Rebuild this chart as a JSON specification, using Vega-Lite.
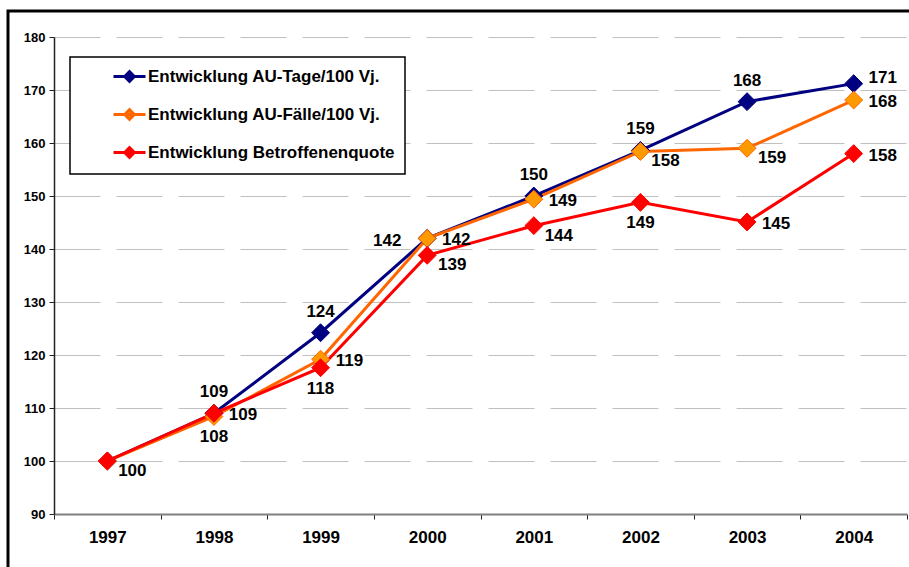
{
  "$schema": "https://vega.github.io/schema/vega-lite/v6.json",
  "width": 905,
  "height": 560,
  "autosize": {"type": "none"},
  "padding": {"left": 8, "top": 11, "right": -4, "bottom": -4},
  "background": "white",
  "config": {
    "view": {"stroke": "black", "strokeWidth": 3},
    "font": "Liberation Sans",
    "legend": {
      "orient": "none",
      "legendX": 62,
      "legendY": 46,
      "strokeColor": "black",
      "strokeWidth": 1.5,
      "fillColor": "white",
      "padding": 10,
      "rowPadding": 15,
      "symbolOffset": 40,
      "labelOffset": 9,
      "labelFont": "Liberation Sans",
      "labelFontSize": 17,
      "labelFontWeight": "bold",
      "labelColor": "black",
      "labelLimit": 400,
      "symbolType": "M-2,0L2,0M-0.6,0L0,-0.6L0.6,0L0,0.6Z",
      "symbolSize": 256,
      "symbolStrokeWidth": 3
    }
  },
  "data": {
    "values": [
      {"year": "1997", "series": "Entwicklung AU-Tage/100 Vj.", "value": 100},
      {"year": "1998", "series": "Entwicklung AU-Tage/100 Vj.", "value": 109},
      {"year": "1999", "series": "Entwicklung AU-Tage/100 Vj.", "value": 124.2},
      {"year": "2000", "series": "Entwicklung AU-Tage/100 Vj.", "value": 142},
      {"year": "2001", "series": "Entwicklung AU-Tage/100 Vj.", "value": 150},
      {"year": "2002", "series": "Entwicklung AU-Tage/100 Vj.", "value": 158.6},
      {"year": "2003", "series": "Entwicklung AU-Tage/100 Vj.", "value": 167.8},
      {"year": "2004", "series": "Entwicklung AU-Tage/100 Vj.", "value": 171.2},
      {"year": "1997", "series": "Entwicklung AU-Fälle/100 Vj.", "value": 100},
      {"year": "1998", "series": "Entwicklung AU-Fälle/100 Vj.", "value": 108.4},
      {"year": "1999", "series": "Entwicklung AU-Fälle/100 Vj.", "value": 119.2},
      {"year": "2000", "series": "Entwicklung AU-Fälle/100 Vj.", "value": 142},
      {"year": "2001", "series": "Entwicklung AU-Fälle/100 Vj.", "value": 149.4},
      {"year": "2002", "series": "Entwicklung AU-Fälle/100 Vj.", "value": 158.4},
      {"year": "2003", "series": "Entwicklung AU-Fälle/100 Vj.", "value": 159},
      {"year": "2004", "series": "Entwicklung AU-Fälle/100 Vj.", "value": 168.1},
      {"year": "1997", "series": "Entwicklung Betroffenenquote", "value": 100},
      {"year": "1998", "series": "Entwicklung Betroffenenquote", "value": 109},
      {"year": "1999", "series": "Entwicklung Betroffenenquote", "value": 117.6},
      {"year": "2000", "series": "Entwicklung Betroffenenquote", "value": 138.8},
      {"year": "2001", "series": "Entwicklung Betroffenenquote", "value": 144.4},
      {"year": "2002", "series": "Entwicklung Betroffenenquote", "value": 148.8},
      {"year": "2003", "series": "Entwicklung Betroffenenquote", "value": 145.1},
      {"year": "2004", "series": "Entwicklung Betroffenenquote", "value": 158}
    ]
  },
  "encoding": {
    "x": {
      "field": "year",
      "type": "ordinal",
      "scale": {"type": "band", "range": [46, 899], "paddingInner": 0, "paddingOuter": 0},
      "axis": {
        "title": null,
        "offset": -57,
        "labelAngle": 0,
        "tickBand": "extent",
        "tickSize": 5,
        "tickColor": "#222222",
        "domainColor": "#808080",
        "domainWidth": 2,
        "labelPadding": 10,
        "labelFont": "Liberation Sans",
        "labelFontSize": 17,
        "labelFontWeight": "bold",
        "labelColor": "black",
        "grid": false
      }
    },
    "y": {
      "field": "value",
      "type": "quantitative",
      "scale": {"domain": [90, 180], "range": [503, 26], "nice": false, "zero": false},
      "axis": {
        "title": null,
        "offset": -46,
        "values": [90, 100, 110, 120, 130, 140, 150, 160, 170, 180],
        "tickSize": 5,
        "tickColor": "#222222",
        "domainColor": "#222222",
        "domainWidth": 1.5,
        "labelPadding": 4,
        "labelFont": "Liberation Sans",
        "labelFontSize": 13,
        "labelFontWeight": "bold",
        "labelColor": "black",
        "grid": true,
        "gridColor": "#c0c0c0",
        "gridWidth": 1,
        "gridDash": [46, 16]
      }
    }
  },
  "layer": [
    {
      "mark": {"type": "line", "strokeWidth": 3},
      "encoding": {
        "color": {
          "field": "series",
          "type": "nominal",
          "scale": {
            "domain": ["Entwicklung AU-Tage/100 Vj.", "Entwicklung AU-Fälle/100 Vj.", "Entwicklung Betroffenenquote"],
            "range": ["#000080", "#ff6600", "#ff0000"]
          },
          "legend": {
            "title": null,
            "encode": {
              "symbols": {
                "update": {
                  "fill": {"scale": "color", "field": "value"},
                  "stroke": {"scale": "color", "field": "value"},
                  "opacity": {"value": 1}
                }
              }
            }
          }
        }
      }
    },
    {
      "mark": {"type": "point", "shape": "diamond", "filled": true, "size": 320, "strokeWidth": 1, "opacity": 1},
      "encoding": {
        "fill": {
          "field": "series",
          "type": "nominal",
          "scale": {
            "domain": ["Entwicklung AU-Tage/100 Vj.", "Entwicklung AU-Fälle/100 Vj.", "Entwicklung Betroffenenquote"],
            "range": ["#000080", "#ff9900", "#ff0000"]
          },
          "legend": null
        },
        "stroke": {
          "field": "series",
          "type": "nominal",
          "scale": {
            "domain": ["Entwicklung AU-Tage/100 Vj.", "Entwicklung AU-Fälle/100 Vj.", "Entwicklung Betroffenenquote"],
            "range": ["#000080", "#ff6600", "#ff0000"]
          },
          "legend": null
        }
      }
    },
    {
      "transform": [{"filter": "datum.series === 'Entwicklung AU-Tage/100 Vj.' && indexof(['1998','1999','2001','2002','2003'], datum.year) >= 0"}],
      "mark": {"type": "text", "dx": 0, "dy": -21, "font": "Liberation Sans", "fontSize": 17, "fontWeight": "bold", "color": "black", "align": "center", "baseline": "middle"},
      "encoding": {"text": {"field": "value", "type": "quantitative", "format": ".0f"}}
    },
    {
      "transform": [{"filter": "datum.series === 'Entwicklung AU-Tage/100 Vj.' && datum.year === '2000'"}],
      "mark": {"type": "text", "dx": -40, "dy": 3, "font": "Liberation Sans", "fontSize": 17, "fontWeight": "bold", "color": "black", "align": "center", "baseline": "middle"},
      "encoding": {"text": {"field": "value", "type": "quantitative", "format": ".0f"}}
    },
    {
      "transform": [{"filter": "datum.series === 'Entwicklung AU-Tage/100 Vj.' && datum.year === '2004'"}],
      "mark": {"type": "text", "dx": 29, "dy": -6, "font": "Liberation Sans", "fontSize": 17, "fontWeight": "bold", "color": "black", "align": "center", "baseline": "middle"},
      "encoding": {"text": {"field": "value", "type": "quantitative", "format": ".0f"}}
    },
    {
      "transform": [{"filter": "(datum.series === 'Entwicklung AU-Fälle/100 Vj.' && indexof(['1999','2000','2001','2004'], datum.year) >= 0) || (datum.series === 'Entwicklung Betroffenenquote' && indexof(['1998','2003','2004'], datum.year) >= 0)"}],
      "mark": {"type": "text", "dx": 29, "dy": 2, "font": "Liberation Sans", "fontSize": 17, "fontWeight": "bold", "color": "black", "align": "center", "baseline": "middle"},
      "encoding": {"text": {"field": "value", "type": "quantitative", "format": ".0f"}}
    },
    {
      "transform": [{"filter": "(datum.series === 'Entwicklung Betroffenenquote' && indexof(['1997','2000','2001'], datum.year) >= 0) || (datum.series === 'Entwicklung AU-Fälle/100 Vj.' && indexof(['2002','2003'], datum.year) >= 0)"}],
      "mark": {"type": "text", "dx": 25, "dy": 10, "font": "Liberation Sans", "fontSize": 17, "fontWeight": "bold", "color": "black", "align": "center", "baseline": "middle"},
      "encoding": {"text": {"field": "value", "type": "quantitative", "format": ".0f"}}
    },
    {
      "transform": [{"filter": "(datum.series === 'Entwicklung AU-Fälle/100 Vj.' && datum.year === '1998') || (datum.series === 'Entwicklung Betroffenenquote' && indexof(['1999','2002'], datum.year) >= 0)"}],
      "mark": {"type": "text", "dx": 0, "dy": 21, "font": "Liberation Sans", "fontSize": 17, "fontWeight": "bold", "color": "black", "align": "center", "baseline": "middle"},
      "encoding": {"text": {"field": "value", "type": "quantitative", "format": ".0f"}}
    }
  ]
}
